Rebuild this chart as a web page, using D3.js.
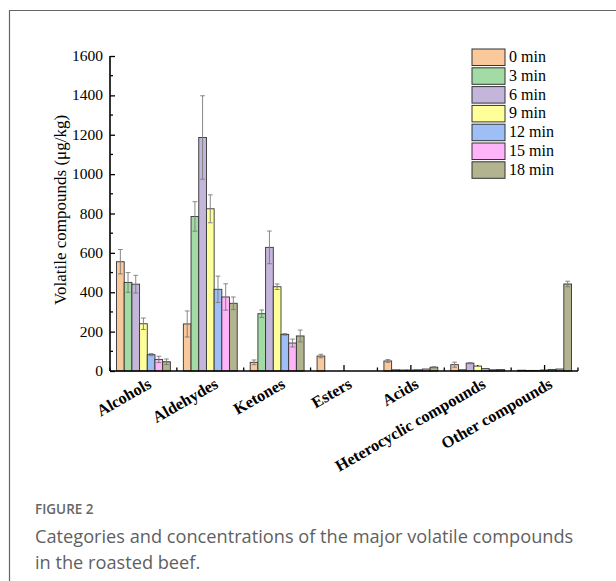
<!DOCTYPE html>
<html>
<head>
<meta charset="utf-8">
<script src="https://cdn.jsdelivr.net/npm/d3@7/dist/d3.min.js"></script>
<style>
  html, body { margin: 0; padding: 0; background: #fff; }
  svg { display: block; }
</style>
</head>
<body>
<svg id="chart" width="616" height="581"></svg>
<script>
// Compound classes on the x axis
const categories = ["Alcohols", "Aldehydes", "Ketones", "Esters", "Acids", "Heterocyclic compounds", "Other compounds"];
// Roasting times (legend series)
const series = ["0 min", "3 min", "6 min", "9 min", "12 min", "15 min", "18 min"];
const colors = ["#F9C89B", "#A3DBA4", "#C4B5DB", "#FFFF99", "#9EBFF5", "#FFB3F8", "#B2B38F"];

// Mean concentrations (µg/kg), one array per roasting time, in category order
const min0  = [555, 239,  44, 76, 51, 32,   4];
const min3  = [450, 785, 291,  0,  6,  6,   3];
const min6  = [441, 1186, 628, 0,  5, 40,   3];
const min9  = [240, 824, 428,  0,  5, 25,   5];
const min12 = [ 83, 415, 186,  0,  6, 12,   8];
const min15 = [ 59, 376, 142,  0, 10,  6,  10];
const min18 = [ 47, 344, 178,  0, 19,  7, 442];

// Standard deviations, same layout
const err0  = [62,  66, 12, 9, 7, 13, 2];
const err3  = [50,  75, 19, 0, 1,  1, 1];
const err6  = [45, 212, 83, 0, 1,  3, 1];
const err9  = [29,  71, 14, 0, 1,  2, 1];
const err12 = [ 5,  67,  4, 0, 1,  1, 1];
const err15 = [16,  67, 20, 0, 2,  1, 2];
const err18 = [14,  32, 30, 0, 3,  2, 14];

const yTicks = [0, 200, 400, 600, 800, 1000, 1200, 1400, 1600];

const values = [min0, min3, min6, min9, min12, min15, min18];
const errors = [err0, err3, err6, err9, err12, err15, err18];

const svg = d3.select("#chart");
const serif = "'Liberation Serif', 'Times New Roman', serif";

// Figure frame (top and left rules)
svg.append("line").attr("x1", 9).attr("x2", 616).attr("y1", 10.5).attr("y2", 10.5)
  .attr("stroke", "#666").attr("stroke-width", 1.2);
svg.append("line").attr("x1", 9.5).attr("x2", 9.5).attr("y1", 10).attr("y2", 581)
  .attr("stroke", "#666").attr("stroke-width", 1.2);

// Scales
const x0 = d3.scaleBand().domain(categories).range([110, 578]).padding(0);
const x1 = d3.scaleBand().domain(series).range([6.5, x0.bandwidth() - 6.5]).padding(0);
const y = d3.scaleLinear().domain([0, 1600]).range([371, 56]);

const plot = svg.append("g");

// X axis ticks: short ones at category boundaries, longer at centres
const bounds = categories.map(c => x0(c)).concat([x0.range()[1]]);
plot.selectAll(".xb").data(bounds).enter().append("line")
  .attr("x1", d => d).attr("x2", d => d)
  .attr("y1", y(0)).attr("y2", y(0) - 3.5)
  .attr("stroke", "#000").attr("stroke-width", 1.3);
plot.selectAll(".xc").data(categories).enter().append("line")
  .attr("x1", d => x0(d) + x0.bandwidth() / 2).attr("x2", d => x0(d) + x0.bandwidth() / 2)
  .attr("y1", y(0)).attr("y2", y(0) - 6)
  .attr("stroke", "#000").attr("stroke-width", 1.3);

// Rows of bar data
const rows = [];
categories.forEach((c, ci) => {
  series.forEach((s, si) => {
    rows.push({ cat: c, ser: s, si, v: values[si][ci], e: errors[si][ci] });
  });
});

const bars = plot.selectAll(".bar").data(rows.filter(d => d.v > 0)).enter();

bars.append("rect")
  .attr("x", d => x0(d.cat) + x1(d.ser))
  .attr("y", d => y(d.v))
  .attr("width", x1.bandwidth())
  .attr("height", d => y(0) - y(d.v))
  .attr("fill", d => colors[d.si])
  .attr("stroke", "#333")
  .attr("stroke-width", 0.9);

// Error bars (mean ± SD) with caps
const eb = plot.selectAll(".err").data(rows.filter(d => d.v > 0 && d.e >= 3)).enter().append("g")
  .attr("stroke", "#7a7a7a").attr("stroke-width", 0.9);
eb.append("line")
  .attr("x1", d => x0(d.cat) + x1(d.ser) + x1.bandwidth() / 2)
  .attr("x2", d => x0(d.cat) + x1(d.ser) + x1.bandwidth() / 2)
  .attr("y1", d => y(Math.max(0, d.v - d.e)))
  .attr("y2", d => y(d.v + d.e));
eb.append("line")
  .attr("x1", d => x0(d.cat) + x1(d.ser) + 1.5)
  .attr("x2", d => x0(d.cat) + x1(d.ser) + x1.bandwidth() - 1.5)
  .attr("y1", d => y(d.v + d.e)).attr("y2", d => y(d.v + d.e));
eb.append("line")
  .attr("x1", d => x0(d.cat) + x1(d.ser) + 1.5)
  .attr("x2", d => x0(d.cat) + x1(d.ser) + x1.bandwidth() - 1.5)
  .attr("y1", d => y(Math.max(0, d.v - d.e))).attr("y2", d => y(Math.max(0, d.v - d.e)));

// X axis line
plot.append("line").attr("x1", 110).attr("x2", 578).attr("y1", y(0)).attr("y2", y(0))
  .attr("stroke", "#000").attr("stroke-width", 1.6);

// Y axis with inward major and minor ticks
const yAxis = d3.axisRight(y).tickValues(yTicks).tickSize(5).tickFormat("");
const yg = svg.append("g").attr("transform", "translate(110,0)").call(yAxis);
yg.select(".domain").attr("stroke", "#000").attr("stroke-width", 1.6).attr("d", `M0,${y(1600)}V${y(0)}`);
yg.selectAll(".tick line").attr("stroke", "#000").attr("stroke-width", 1.3);
const minor = d3.range(100, 1600, 200);
yg.selectAll(".minor").data(minor).enter().append("line")
  .attr("x1", 0).attr("x2", 3).attr("y1", d => y(d)).attr("y2", d => y(d))
  .attr("stroke", "#000").attr("stroke-width", 1.3);

// Y tick labels
svg.selectAll(".ylab").data(yTicks).enter().append("text")
  .attr("x", 103).attr("y", d => y(d) + 5)
  .attr("text-anchor", "end")
  .attr("font-family", serif).attr("font-size", 15.5).attr("fill", "#000")
  .text(d => d);

// Y axis title
svg.append("text")
  .attr("transform", "translate(66,210) rotate(-90)")
  .attr("text-anchor", "middle")
  .attr("font-family", serif).attr("font-size", 17).attr("fill", "#000")
  .text("Volatile compounds (μg/kg)");

// Rotated category labels
svg.selectAll(".xlab").data(categories).enter().append("text")
  .attr("transform", d => `translate(${x0(d) + x0.bandwidth() / 2 + 9},${y(0) + 16}) rotate(-30)`)
  .attr("text-anchor", "end")
  .attr("font-family", serif).attr("font-size", 16.3).attr("font-weight", "bold").attr("fill", "#000")
  .text(d => d);

// Legend
const lg = svg.append("g").attr("transform", "translate(472,49)");
const li = lg.selectAll(".li").data(series).enter().append("g")
  .attr("transform", (d, i) => `translate(0,${i * 18.8})`);
li.append("rect").attr("width", 33).attr("height", 16.5)
  .attr("fill", (d, i) => colors[i]).attr("stroke", "#333").attr("stroke-width", 1);
li.append("text").attr("x", 37).attr("y", 13)
  .attr("font-family", serif).attr("font-size", 16).attr("fill", "#000")
  .text(d => d);

// Caption
const sans = "'Open Sans', 'Noto Sans', sans-serif";
svg.append("text").attr("x", 35).attr("y", 514)
  .attr("font-family", sans).attr("font-size", 13.5).attr("font-weight", 600).attr("fill", "#666")
  .text("FIGURE 2");
svg.append("text").attr("x", 35).attr("y", 543)
  .attr("font-family", sans).attr("font-size", 18.2).attr("fill", "#5f5f5f")
  .text("Categories and concentrations of the major volatile compounds");
svg.append("text").attr("x", 35).attr("y", 569)
  .attr("font-family", sans).attr("font-size", 18.2).attr("fill", "#5f5f5f")
  .text("in the roasted beef.");
</script>
</body>
</html>
